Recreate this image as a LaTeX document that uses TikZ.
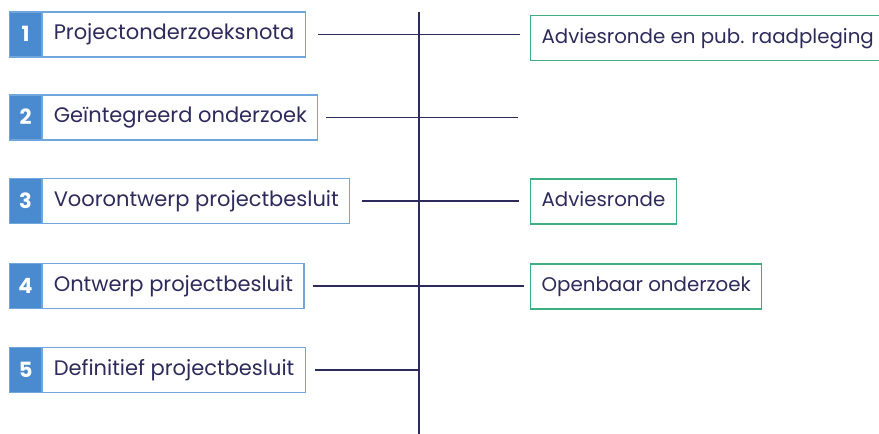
\documentclass[tikz,border=0pt]{standalone}
\usepackage{fontspec}
\setmainfont{Poppins}
\usepackage{tikz}
\usetikzlibrary{positioning}
\definecolor{stageblue}{HTML}{70A6DC}
\definecolor{numblue}{HTML}{4A8BD0}
\definecolor{advgreen}{HTML}{3DAE82}
\definecolor{inkblue}{HTML}{2D2A5C}
\tikzstyle{stage} = [rectangle, draw=stageblue, line width=1.2pt, minimum height=45pt, inner xsep=11pt, text height=14pt, text depth=4pt, text=inkblue, font=\fontsize{21}{23}\selectfont]
\tikzstyle{num} = [rectangle, draw=stageblue, fill=numblue, line width=1.2pt, minimum height=45pt, minimum width=32pt, text height=14pt, text depth=0pt, text=white, font=\bfseries\fontsize{21}{23}\selectfont, anchor=west]
\tikzstyle{advice} = [rectangle, draw=advgreen, line width=1.2pt, minimum height=45pt, inner xsep=11pt, text height=14pt, text depth=4pt, text=inkblue, font=\fontsize{19.8}{22}\selectfont, anchor=west]
\tikzstyle{link} = [draw=inkblue, line width=1.4pt]

\begin{document}
\begin{tikzpicture}[x=1pt, y=-1pt]
  \useasboundingbox (0,0) rectangle (879,434);

  \node (n1) [num] at (9,34.5) {1};
  \node (s1) [stage, right=0pt of n1] {Projectonderzoeksnota};
  \node (n2) [num] at (9,117.5) {2};
  \node (s2) [stage, right=0pt of n2] {Geïntegreerd onderzoek};
  \node (n3) [num] at (9,201) {3};
  \node (s3) [stage, right=0pt of n3] {Voorontwerp projectbesluit};
  \node (n4) [num] at (9,286) {4};
  \node (s4) [stage, right=0pt of n4] {Ontwerp projectbesluit};
  \node (n5) [num] at (9,370) {5};
  \node (s5) [stage, right=0pt of n5] {Definitief projectbesluit};

  \node (a1) [advice] at (530,38) {Adviesronde en pub. raadpleging};
  \coordinate (a2) at (518,118);
  \node (a3) [advice] at (530,201.5) {Adviesronde};
  \node (a4) [advice] at (530,286.5) {Openbaar onderzoek};

  \coordinate (top) at (419,12);
  \coordinate (bottom) at (419,434);
  \draw[link] (top) -- (bottom);

  \draw[link] ([xshift=12pt]s1.east) -- ([xshift=-10pt]s1.east -| a1.west);
  \draw[link] ([xshift=8pt]s2.east) -- (s2.east -| a2);
  \draw[link] ([xshift=12pt]s3.east) -- ([xshift=-11pt]s3.east -| a3.west);
  \draw[link] ([xshift=8pt]s4.east) -- ([xshift=-6pt]s4.east -| a4.west);
  \draw[link] ([xshift=9pt]s5.east) -- (s5.east -| bottom);
\end{tikzpicture}
\end{document}
